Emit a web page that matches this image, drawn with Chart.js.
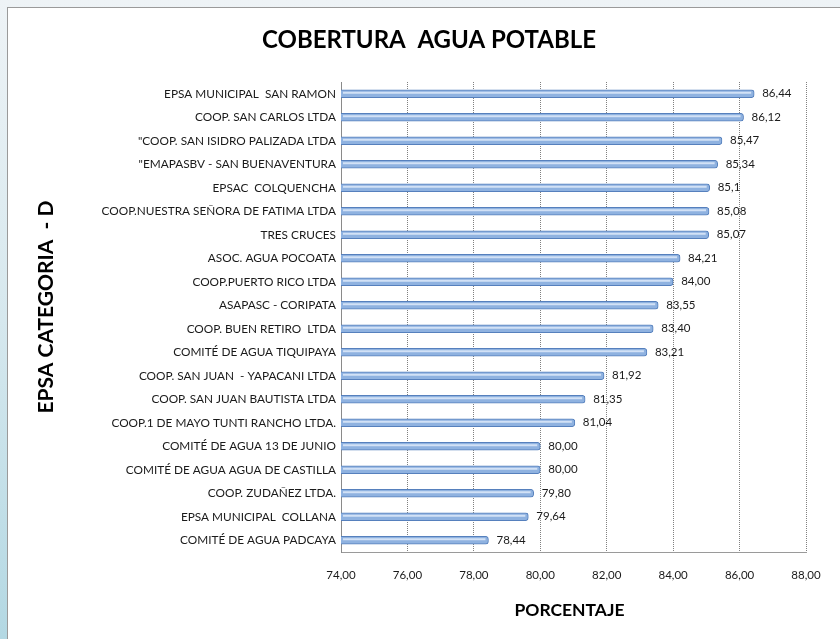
<!DOCTYPE html>
<html>
<head>
<meta charset="utf-8">
<script src="https://cdn.jsdelivr.net/npm/chart.js@4/dist/chart.umd.min.js"></script>
<style>
  html, body { margin: 0; padding: 0; }
  body {
    width: 840px; height: 639px; overflow: hidden;
    background: linear-gradient(to bottom, #eef3f6 0%, #d6e8ee 50%, #b3d8e3 100%);
    position: relative;
  }
  #panel {
    position: absolute; left: 7px; top: 7px; width: 833px; height: 632px;
    background: #ffffff; border-left: 1px solid #9a9a9a; border-top: 1px solid #9a9a9a;
    box-sizing: border-box;
  }
  #c { position: absolute; left: 8px; top: 8px; }
</style>
</head>
<body>
<div id="panel"></div>
<canvas id="c" width="832" height="631"></canvas>
<script>
const categories = [
  "EPSA MUNICIPAL  SAN RAMON",
  "COOP. SAN CARLOS LTDA",
  "\"COOP. SAN ISIDRO PALIZADA LTDA",
  "\"EMAPASBV - SAN BUENAVENTURA",
  "EPSAC  COLQUENCHA",
  "COOP.NUESTRA SEÑORA DE FATIMA LTDA",
  "TRES CRUCES",
  "ASOC. AGUA POCOATA",
  "COOP.PUERTO RICO LTDA",
  "ASAPASC - CORIPATA",
  "COOP. BUEN RETIRO  LTDA",
  "COMITÉ DE AGUA TIQUIPAYA",
  "COOP. SAN JUAN  - YAPACANI LTDA",
  "COOP. SAN JUAN BAUTISTA LTDA",
  "COOP.1 DE MAYO TUNTI RANCHO LTDA.",
  "COMITÉ DE AGUA 13 DE JUNIO",
  "COMITÉ DE AGUA AGUA DE CASTILLA",
  "COOP. ZUDAÑEZ LTDA.",
  "EPSA MUNICIPAL  COLLANA",
  "COMITÉ DE AGUA PADCAYA"
];
const coverage = [86.44, 86.12, 85.47, 85.34, 85.1, 85.08, 85.07, 84.21, 84.00, 83.55,
                  83.40, 83.21, 81.92, 81.35, 81.04, 80.00, 80.00, 79.80, 79.64, 78.44];
const valueLabels = ["86,44", "86,12", "85,47", "85,34", "85,1", "85,08", "85,07", "84,21", "84,00", "83,55",
                     "83,40", "83,21", "81,92", "81,35", "81,04", "80,00", "80,00", "79,80", "79,64", "78,44"];
const xMin = 74, xMax = 88, xStep = 2;

const chartTitle = "COBERTURA  AGUA POTABLE";
const yTitle = "EPSA CATEGORIA  - D";
const xTitle = "PORCENTAJE";

const FONT = "Lato, 'Open Sans', sans-serif";

const textPlugin = {
  id: 'texts',
  afterDatasetsDraw(chart) {
    const ctx = chart.ctx;
    const a = chart.chartArea;
    const meta = chart.getDatasetMeta(0);
    ctx.save();
    // cylinder highlight
    ctx.strokeStyle = 'rgba(214,228,247,0.95)';
    ctx.lineWidth = 2;
    meta.data.forEach((el) => {
      ctx.beginPath();
      ctx.moveTo(a.left + 2, el.y - 1);
      ctx.lineTo(el.x - 3, el.y - 1);
      ctx.stroke();
    });
    ctx.font = "11.5px " + FONT;
    ctx.fillStyle = "#1a1a1a";
    ctx.textAlign = "left";
    ctx.textBaseline = "middle";
    meta.data.forEach((el, i) => {
      ctx.fillText(valueLabels[i], el.x + 8, el.y);
    });
    ctx.restore();
  },
  afterDraw(chart) {
    const ctx = chart.ctx;
    const a = chart.chartArea;
    ctx.save();
    ctx.fillStyle = "#000";
    ctx.textAlign = "center";
    ctx.textBaseline = "middle";
    ctx.font = "bold 24px " + FONT;
    ctx.fillText(chartTitle, 421, 32);
    ctx.font = "bold 17.5px " + FONT;
    ctx.fillText(xTitle, (a.left + a.right) / 2 - 4, 602);
    ctx.translate(38, 299);
    ctx.rotate(-Math.PI / 2);
    ctx.font = "bold 21px " + FONT;
    ctx.fillText(yTitle, 0, 0);
    ctx.restore();
  }
};

new Chart(document.getElementById('c'), {
  type: 'bar',
  data: {
    labels: categories,
    datasets: [{
      data: coverage,
      backgroundColor: '#8fb2e0',
      borderColor: '#5680bd',
      borderWidth: 1,
      borderRadius: 3,
      borderSkipped: false,
      barThickness: 8
    }]
  },
  options: {
    indexAxis: 'y',
    responsive: false,
    animation: false,
    layout: { padding: { top: 74, right: 34, bottom: 0, left: 0 } },
    plugins: {
      legend: { display: false },
      title: { display: false },
      tooltip: { enabled: false }
    },
    scales: {
      x: {
        min: xMin, max: xMax,
        afterFit(s) { s.height = 87; },
        ticks: {
          stepSize: xStep,
          padding: 16,
          color: '#1a1a1a',
          font: { family: FONT, size: 11.5 },
          callback: (v) => v.toFixed(2).replace('.', ',')
        },
        grid: { color: '#808080', drawTicks: false },
        border: { color: '#9a9a9a', dash: [1, 1] }
      },
      y: {
        afterFit(s) { s.width = 333; },
        ticks: {
          padding: 5,
          color: '#1a1a1a',
          font: { family: FONT, size: 11.8 },
          autoSkip: false
        },
        grid: { display: false, drawTicks: false },
        border: { color: '#8a8a8a', dash: [1, 1] }
      }
    }
  },
  plugins: [textPlugin]
});
</script>
</body>
</html>
